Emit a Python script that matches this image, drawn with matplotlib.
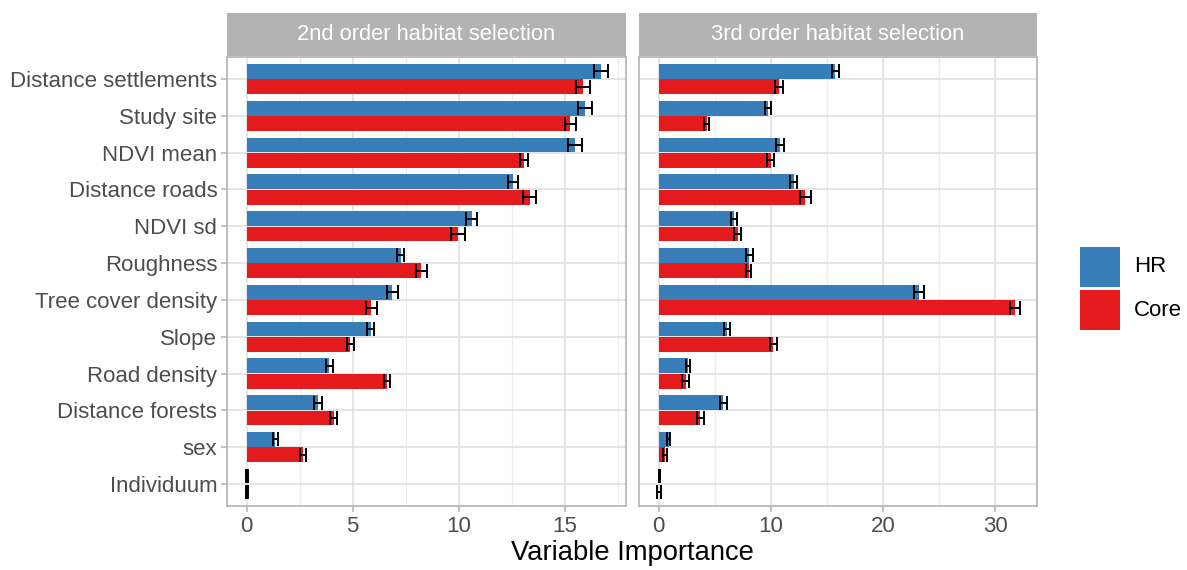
import matplotlib
matplotlib.use("Agg")
import matplotlib.pyplot as plt
import numpy as np
from matplotlib.patches import Rectangle

plt.rcParams['font.family'] = ['Liberation Sans', 'DejaVu Sans']

categories = ["Distance settlements", "Study site", "NDVI mean", "Distance roads",
              "NDVI sd", "Roughness", "Tree cover density", "Slope", "Road density",
              "Distance forests", "sex", "Individuum"]
panels = ["2nd order habitat selection", "3rd order habitat selection"]
groups = ["HR", "Core"]

# 2nd order
hr2 = [16.72, 15.97, 15.50, 12.58, 10.62, 7.27, 6.88, 5.85, 3.91, 3.39, 1.36, 0.02]
hr2_se = [0.33, 0.33, 0.34, 0.23, 0.27, 0.16, 0.27, 0.18, 0.18, 0.19, 0.11, 0.03]
core2 = [15.89, 15.28, 13.10, 13.36, 9.98, 8.24, 5.88, 4.90, 6.62, 4.12, 2.66, 0.02]
core2_se = [0.33, 0.28, 0.18, 0.31, 0.34, 0.26, 0.26, 0.17, 0.14, 0.17, 0.14, 0.04]

# 3rd order
hr3 = [15.75, 9.75, 10.80, 12.04, 6.74, 8.07, 23.20, 6.12, 2.63, 5.78, 0.90, 0.08]
hr3_se = [0.34, 0.28, 0.36, 0.32, 0.28, 0.30, 0.44, 0.25, 0.21, 0.32, 0.15, 0.06]
core3 = [10.73, 4.28, 9.97, 13.07, 7.07, 8.02, 31.78, 10.22, 2.41, 3.72, 0.59, 0.03]
core3_se = [0.33, 0.25, 0.27, 0.49, 0.31, 0.19, 0.45, 0.31, 0.28, 0.31, 0.19, 0.16]

colors = {"HR": "#377EB8", "Core": "#E41A1C"}
W, H = 1187, 570
fig = plt.figure(figsize=(W / 100, H / 100), dpi=100)

def px_axes(x0, y0, x1, y1):
    return fig.add_axes([x0 / W, 1 - y1 / H, (x1 - x0) / W, (y1 - y0) / H])

panel_px = [(227, 626), (639, 1037)]
xlims = [(-0.92, 17.9), (-1.74, 33.7)]
major = [[0, 5, 10, 15], [0, 10, 20, 30]]
minor = [[2.5, 7.5, 12.5, 17.5], [5, 15, 25]]
data = [(hr2, hr2_se, core2, core2_se), (hr3, hr3_se, core3, core3_se)]

y = np.arange(len(categories))[::-1].astype(float)
bh = 0.405
off = 0.21
grey70 = "#b3b3b3"

for i, (x0, x1) in enumerate(panel_px):
    ax = px_axes(x0, 57, x1, 506)
    hr, hrse, co, cose = data[i]
    ax.set_xlim(*xlims[i])
    ax.set_ylim(-0.6, len(categories) - 0.4)
    ax.set_xticks(major[i])
    ax.set_xticks(minor[i], minor=True)
    ax.set_yticks(y)
    ax.grid(True, which='major', color='#dedede', linewidth=1.1, zorder=0)
    ax.grid(True, which='minor', axis='x', color='#ececec', linewidth=0.8, zorder=0)
    ax.set_axisbelow(True)
    ax.barh(y + off, hr, height=bh, color=colors["HR"], zorder=2)
    ax.barh(y - off, co, height=bh, color=colors["Core"], zorder=2)
    ax.errorbar(hr, y + off, xerr=hrse, fmt='none', ecolor='black', elinewidth=1.4,
                capsize=5, capthick=1.4, zorder=3)
    ax.errorbar(co, y - off, xerr=cose, fmt='none', ecolor='black', elinewidth=1.4,
                capsize=5, capthick=1.4, zorder=3)
    for s in ax.spines.values():
        s.set_color(grey70)
        s.set_linewidth(1.2)
    ax.tick_params(axis='x', which='major', colors=grey70, labelcolor='#4d4d4d',
                   labelsize=16, length=4, width=1.1, pad=3)
    ax.tick_params(axis='x', which='minor', length=0)
    if i == 0:
        ax.set_yticklabels(categories)
        ax.tick_params(axis='y', colors=grey70, labelcolor='#4d4d4d', labelsize=16,
                       length=4, width=1.1, pad=3)
    else:
        ax.set_yticklabels([])
        ax.tick_params(axis='y', length=0)
    # strip
    sax = px_axes(x0, 13, x1, 56)
    sax.set_facecolor(grey70)
    sax.set_xticks([]); sax.set_yticks([])
    for s in sax.spines.values():
        s.set_visible(False)
    sax.text(0.5, 0.5, panels[i], color='white', fontsize=15.8, ha='center', va='center',
             transform=sax.transAxes)

fig.text(632 / W, 1 - 553 / H, "Variable Importance", fontsize=19.7, ha='center', va='center',
         color='black')

# legend drawn manually
key_tops = [247, 290]
for g, top in zip(groups, key_tops):
    fig.add_artist(Rectangle((1080 / W, 1 - (top + 40) / H), 40 / W, 40 / H,
                             transform=fig.transFigure, facecolor=colors[g],
                             edgecolor='none'))
    fig.text(1134 / W, 1 - (top + 20) / H, g, fontsize=16, ha='left', va='center',
             color='black')

fig.savefig("out.png", dpi=100, facecolor='white')
